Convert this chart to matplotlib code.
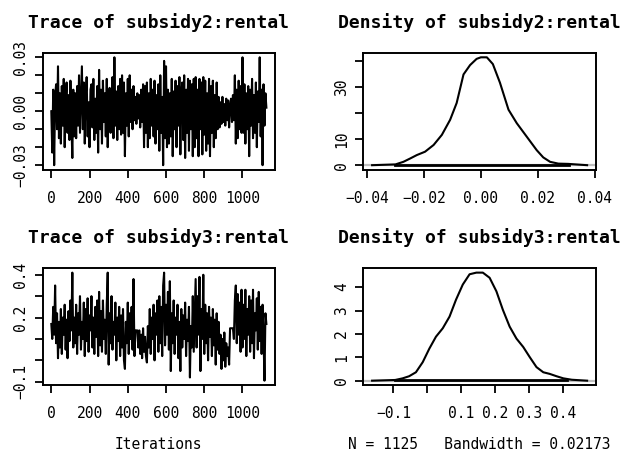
import numpy as np
import matplotlib
matplotlib.use("Agg")
import matplotlib.pyplot as plt

# trace values, one every ~5 iterations
trace2_vals = [
    0, -23, 12, -30, 8, 15, -10, 25, -15, 10, -18, 14, -8, 18, -20, 6, 16, -12, 9, -16, 17, -6, -26, 12, -14,
    10, -15, 14, -8, 20, -12, 6, 25, -10, 16, -18, 8, 19, -14, 5, -20, 12, 15, -9, 18, -16, 7, -12, 14, -23,
    23, -10, 12, -18, 17, -6, 10, -14, 18, -20, 8, 13, -12, 6, 19, -15, 30, -8, 11, -16, 14, -10, 18, -13, 20,
    -12, 16, -25, 10, -8, 18, -14, 20, -6, 12, -10, 14, -5, 8, -7, 10, -4, 9, -9, 12, -6, 15, -20, 14, -12,
    16, -20, 10, -15, 18, -8, 12, -14, 17, -18, 9, -10, 15, -22, 20, -12, 8, -30, 28, -15, 25, -20, 12, -18, 10,
    -14, 18, -25, 11, -10, 17, -20, 14, -8, 19, -24, 10, 16, -16, 20, -26, 12, -12, 18, -22, 17, -10, 15, -25, 18,
    -20, 19, -15, 12, -25, 18, -10, 16, -24, 19, -13, 17, -22, 10, -18, 18, -25, 14, -12, 17, -20, 9, -15, 16, -10,
    8, -9, 5, -7, 8, -6, 4, -8, 7, -5, 6, -9, 3, 7, -6, 9, -5, 20, -18, 12, -15, 17, -10, 14, -12,
    30, -12, 15, -18, 10, -10, 14, -25, 12, -8, 18, -15, 9, -12, 16, -20, 11, -6, 30, -14, 12, -30, 15, -8, 10,
    2]
trace3_vals = [
    17, 10, 25, 12, 35, 8, 22, 1, 18, 6, 24, 3, 20, 12, 26, 5, 19, 1, 23, 9, 28, 14, 41, 6, 20,
    8, 26, 3, 22, 12, 30, 5, 18, 10, 27, 2, 24, 9, 29, 4, 21, 14, 30, 6, 20, 3, 25, 11, 28, 2,
    32, 7, 23, 4, 28, 10, 19, 3, 26, 41, -2, 22, 8, 30, 5, 18, 12, 27, 0, 20, 9, 25, 2, 21, 6,
    24, 0, -4, 18, 8, 27, 3, 22, 10, 25, 5, 38, 2, 14, 14, 14, 6, 14, 3, 12, 1, 15, 4, 11, 2,
    -1, 16, 6, 24, 3, 20, 10, 26, 0, 22, 12, 28, 4, 30, 8, 25, 2, 35, 41, 7, 26, 12, 32, 5, 37,
    -5, 22, 8, 28, 3, 20, 12, 26, 1, 18, -5, 24, 6, 21, 10, 27, 2, 19, 9, 25, -8, 16, 6, 30, 4,
    22, 38, 6, 30, 12, 39, -5, 24, 10, 40, 3, 26, 8, 22, 0, 25, 11, 20, 2, 24, 7, 19, -2, 22, 5,
    18, 3, 12, -4, 10, 0, 13, -3, 8, 2, 6, -2, 15, 15, 15, 15, 10, 28, 35, 8, 31, 12, 27, 4, 33,
    6, 26, 10, 33, 2, 24, 12, 30, 4, 28, 8, 33, 1, 22, 14, 29, 5, 32, 9, 25, 3, 26, 11, -9.5, 22,
    17]
n_iter = 1125

# density curves
dens2_x = [-0.0382, -0.030, -0.0272, -0.0248, -0.0225, -0.0196, -0.0166, -0.0137, -0.0108, -0.0085,
           -0.0061, -0.0038, -0.0015, 0.0, 0.0021, 0.0042, 0.0067, 0.0097, 0.0126, 0.0161,
           0.0196, 0.0219, 0.0243, 0.0272, 0.0307, 0.0373]
dens2_y = [0.0, 0.3, 1.3, 2.6, 3.9, 5.2, 7.8, 11.7, 17.5, 24.0,
           35.0, 38.6, 41.0, 41.6, 41.6, 39.0, 31.8, 21.4, 16.2, 11.0,
           5.8, 3.0, 1.3, 0.6, 0.5, 0.0]
dens3_x = [-0.163, -0.095, -0.073, -0.054, -0.034, -0.014, 0.0055, 0.025, 0.045, 0.065, 0.084,
           0.104, 0.124, 0.144, 0.163, 0.183, 0.203, 0.222, 0.242, 0.262, 0.282,
           0.301, 0.321, 0.341, 0.36, 0.38, 0.40, 0.425, 0.470]
dens3_y = [0.0, 0.03, 0.1, 0.19, 0.36, 0.79, 1.37, 1.88, 2.24, 2.74, 3.46,
           4.11, 4.55, 4.62, 4.62, 4.4, 3.82, 3.03, 2.31, 1.8, 1.44,
           1.01, 0.58, 0.36, 0.29, 0.19, 0.1, 0.04, 0.0]
bandwidth = 0.02173

mono = "DejaVu Sans Mono"
plt.rcParams['font.family'] = mono

fig = plt.figure(figsize=(6.31, 4.54), dpi=100)
W, H = 631, 454

def make_ax(x0, y0, x1, y1):
    return fig.add_axes([x0 / W, 1 - y1 / H, (x1 - x0) / W, (y1 - y0) / H])

def style(ax, title):
    for s in ax.spines.values():
        s.set_linewidth(1.4)
    ax.tick_params(length=5.8, width=1.3, labelsize=10.5)
    ax.tick_params(axis='x', pad=9.5)
    ax.tick_params(axis='y', pad=4.5)
    for lab in ax.get_yticklabels():
        lab.set_rotation(90)
        lab.set_va('center')
    ax.text(0.5, 1.266, title, transform=ax.transAxes, ha='center', va='center',
            fontsize=13, fontweight='bold')
    ax.margins(0.04)

axes = {
    't2': make_ax(42.7, 53, 275, 169.5),
    'd2': make_ax(363.5, 53, 595.7, 169.5),
    't3': make_ax(42.7, 268.3, 275, 385),
    'd3': make_ax(363.5, 268.3, 595.7, 385),
}

# traces
for key, vals, name, yt, ylab in [
        ('t2', trace2_vals, 'subsidy2:rental', [-0.03, -0.02, -0.01, 0, 0.01, 0.02, 0.03],
         ['−0.03', '', '', '0.00', '', '', '0.03']),
        ('t3', trace3_vals, 'subsidy3:rental', [-0.1, 0, 0.1, 0.2, 0.3, 0.4],
         ['−0.1', '', '', '0.2', '', '0.4'])]:
    ax = axes[key]
    y = np.array(vals) / (1000 if key == 't2' else 100)
    x = np.linspace(0, n_iter, len(y))
    ax.plot(x, y, color='black', lw=1.5)
    ax.set_xticks([0, 200, 400, 600, 800, 1000])
    ax.set_xticklabels(['0', '200', '400', '600', '800', '1000'])
    ax.set_yticks(yt)
    ax.set_yticklabels(ylab)
    style(ax, 'Trace of ' + name)

# densities
for key, dx, dy, name, xt, xlab, yt, ylab, lo, hi in [
        ('d2', dens2_x, dens2_y, 'subsidy2:rental', [-0.04, -0.02, 0, 0.02, 0.04],
         ['−0.04', '−0.02', '0.00', '0.02', '0.04'], [0, 10, 20, 30, 40], ['0', '10', '', '30', ''],
         -0.030, 0.031),
        ('d3', dens3_x, dens3_y, 'subsidy3:rental', [-0.1, 0, 0.1, 0.2, 0.3, 0.4],
         ['−0.1', '', '0.1', '0.2', '0.3', '0.4'], [0, 1, 2, 3, 4], ['0', '1', '2', '3', '4'],
         -0.095, 0.41)]:
    ax = axes[key]
    ax.plot(dx, dy, color='black', lw=1.5)
    ax.set_xticks(xt)
    ax.set_xticklabels(xlab)
    ax.set_yticks(yt)
    ax.set_yticklabels(ylab)
    style(ax, 'Density of ' + name)
    ax.axhline(0, color='#bebebe', lw=1.6, zorder=1)
    ax.plot([lo, hi], [max(dy) / 200, max(dy) / 200], color='black', lw=2.0, zorder=3)

axes['t3'].text(0.5, -0.514, 'Iterations', transform=axes['t3'].transAxes,
                ha='center', va='center', fontsize=10.5)
axes['d3'].text(0.5, -0.514, 'N = %d   Bandwidth = %s' % (n_iter, bandwidth),
                transform=axes['d3'].transAxes, ha='center', va='center', fontsize=10.5)

fig.savefig('out.png', dpi=100)
